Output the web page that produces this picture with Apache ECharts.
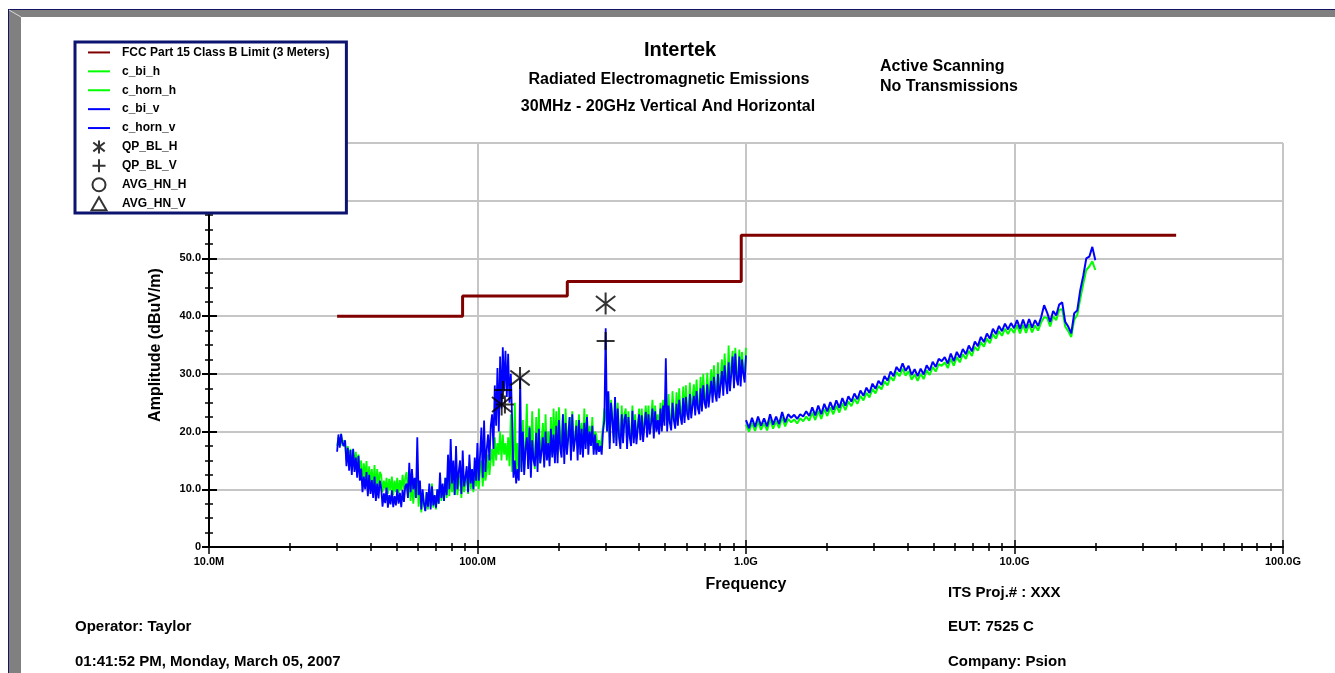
<!DOCTYPE html>
<html><head><meta charset="utf-8">
<script src="https://cdn.jsdelivr.net/npm/echarts@6/dist/echarts.min.js"></script>
<style>html,body{margin:0;padding:0;background:#fff}#c{width:1335px;height:673px}</style>
</head><body><div id="c"></div>
<script>
const FONT = '"Liberation Sans", Arial, Helvetica, sans-serif';

// ---- names / labels ----
const seriesNames = ['FCC Part 15 Class B Limit (3 Meters)', 'c_bi_h', 'c_horn_h', 'c_bi_v', 'c_horn_v', 'QP_BL_H', 'QP_BL_V', 'AVG_HN_H', 'AVG_HN_V'];
const titleLines = ['Intertek', 'Radiated Electromagnetic Emissions', '30MHz - 20GHz Vertical And Horizontal'];
const noteLines = ['Active Scanning', 'No Transmissions'];
const footerLeft = ['Operator: Taylor', '01:41:52 PM, Monday, March 05, 2007'];
const footerRight = ['ITS Proj.# : XXX', 'EUT: 7525 C', 'Company: Psion'];
const minorTickFreqs = [20,30,40,50,60,70,80,90,200,300,400,500,600,700,800,900,2000,3000,4000,5000,6000,7000,8000,9000,20000,30000,40000,50000,60000,70000,80000,90000];

// ---- limit line (MHz, dBuV/m) ----
const limitFreq = [30, 88, 216, 960, 40000];
const limitVal = [40, 43.5, 46, 54, 54];

// ---- sweep ranges (MHz) ----
const biSweep = [30, 1000];
const hornSweep = [1000, 20000];

// ---- c_bi_h (green, horizontal, biconical) ----
const biH = [
 17.5, 19, 18, 19.6, 17.5, 18.5,
 18, 15, 17.5, 14.5, 17, 14, 16.8, 14.2, 16.5, 13.5, 16, 13,
 15, 11, 14.5, 12, 14.9, 10.5, 14, 11, 13.5, 10.2, 14.2, 10, 13.5, 10.5, 13,
 12.5, 9.5, 11.5, 10, 12, 9.2, 11.8, 9.8, 12.2, 9, 11.5, 9.5, 12, 9.3, 11.6, 9.8, 12.5, 10, 12,
 13, 9, 11.5, 8, 11, 7.5, 10, 8.5,
 12,
 7, 10, 6, 9, 7.5, 6.3, 9.5, 6.5, 10, 7, 11, 6.8, 9, 6.5, 10,
 7.5, 11, 8, 10.5, 8, 12,
 8.5, 13, 8.8, 14, 9.5, 12, 9,
 13.5, 9, 11, 12.5, 8.5, 14, 9.5, 11, 13, 9.2, 14.5, 10, 12, 9.5, 14, 10.5,
 14, 10, 13, 15, 10.5, 14.5, 11.5, 13, 16, 12.5, 15,
 17, 14, 19, 15, 18, 16, 20, 15, 19.5, 16, 18, 15, 19, 14, 23, 13,
 14, 25, 12, 18, 13,
 14,
 14, 22, 13, 18, 24.8, 14, 21, 15, 23.5, 16, 13.5, 22.5, 15, 24, 14.5, 18, 21.5, 15.5, 23, 16, 20, 15, 22.5, 16, 24, 17,
 23.5, 16, 24.2, 19, 17.5, 23, 16.5, 24, 17, 20, 22.5, 16.5, 23.5, 17.5, 19, 22, 17, 23, 18, 21.5, 17, 24, 18, 23, 17.5, 21, 18.5, 22.5, 17, 20,
 19.5, 17, 18.5, 17, 19, 21,
 24, 23,
 20, 26.5, 18, 25.5, 22, 19, 26, 18.5, 25, 20, 18, 24.5, 19, 23,
 24, 18, 23.5, 20, 18.5, 24.5, 19, 23, 18.8, 21, 24, 19.5, 24, 19.2, 22, 24.5, 20, 24.5, 20.5, 22.5, 25.5, 20, 24.5, 21, 23, 20.5, 25,
 21, 25.5, 22,
 25,
 21, 26.5, 22.5, 21.2, 27, 23, 21.5, 26.8, 22, 27.5,
 23.5, 22.2, 27.8, 22.5, 28, 24, 23, 28.5, 23.3, 26,
 28.2, 23.8, 29, 25, 24, 29.5, 24.5, 30, 26, 25,
 30.2, 25.2, 28, 30.8, 26, 31.5, 27.5, 26.2, 32, 26.8,
 29.5, 32.5, 27.2, 33.5, 29.5, 27.5, 34.9, 28, 31.5, 34,
 28.5, 34.5, 30, 29, 34.2, 28.8, 33.8, 31, 29.5, 34.5
];

// ---- c_bi_v (blue, vertical, biconical) ----
const biV = [
 16.5, 19.5, 17.2, 19.6, 18, 17.5,
 18.5, 14, 17.2, 13.2, 16.8, 12.5, 17, 13, 15.5, 12, 15.8, 11.5,
 13.6, 9.5, 12.2, 10, 13, 8.8, 12.5, 9.2, 11.6, 8.5, 12.2, 8, 11, 8.4, 11.5,
 10.2, 7, 9.3, 7.6, 10.3, 6.8, 9, 7.4, 9.8, 6.9, 8.8, 7.2, 10, 7.5, 9.4, 6.9, 9.9, 7.8, 10.5,
 11, 8.5, 14.6, 9.5, 13.5, 10, 12, 8.5,
 19,
 9, 11.5, 6.5, 10, 7.5, 6.2, 9.5, 7, 11, 6.5, 10.5, 7.2, 9, 6.8, 10,
 7.5, 12.9, 8.5, 11, 8, 12,
 9, 16, 10, 18.7, 11, 15, 9,
 17.5, 10, 13, 15, 9.2, 16.7, 10.5, 12, 14, 9.5, 16, 11, 13.5, 10, 15.5, 11.5,
 18, 11.5, 16, 20.7, 12, 21.9, 13, 17, 19.5, 15, 21,
 23, 17, 28, 21, 31, 20, 33, 24, 34.6, 27, 34, 26, 33.5, 25, 30, 22,
 12, 15, 11, 13.5, 11.5,
 29.4,
 13, 20, 12.5, 17, 19, 13.5, 20.7, 12, 18.5, 15, 14, 19.8, 13, 20.5, 14.5, 16.5, 19, 13.8, 20, 15, 18, 14, 20.5, 15.5, 19.5, 14.5,
 21, 14.5, 22, 17, 15.5, 23, 14.4, 21.5, 16, 19, 22.5, 15, 23, 16.5, 18.5, 21, 15, 22, 16, 20.5, 15.5, 21.5, 17, 22.5, 16, 20, 17.5, 21, 16, 19.5,
 16, 18, 16.5, 17.5, 16, 20,
 22, 37.9,
 20, 27, 17, 25, 22, 18, 26, 17.5, 24, 19, 17, 23, 18, 22,
 23, 17, 22.5, 19, 17.5, 23.6, 18, 22, 17.8, 20.5, 23, 18.5, 22.8, 18.2, 21, 23.4, 19, 23, 19.5, 21.5, 24, 18.8, 23.5, 20, 22, 19.5, 24,
 20, 24.5, 21,
 32.7,
 20, 24.5, 21.5, 20.2, 25, 22, 20.5, 24.8, 21, 25.5,
 22.5, 21.2, 25.8, 21.5, 26, 23, 22, 26.5, 22.3, 24.5,
 26.2, 22.8, 27, 24, 23, 27.5, 23.5, 28, 25, 24,
 28.2, 24.2, 26.5, 28.8, 25, 29.5, 26.5, 25.2, 30, 25.8,
 28, 30.5, 26.2, 31.5, 28.5, 26.5, 32, 27, 30, 33,
 27.5, 33.5, 29, 28, 33, 27.8, 32.5, 30, 28.5, 33.2
];

// ---- c_horn_h (green, horizontal, horn) ----
const hornH = [
 21.2, 20.0, 21.5, 20.1, 21.8, 20.3, 21.5, 20.2, 22.1, 20.5,
 21.8, 20.6, 22.5, 20.9, 22.2, 21.6, 22.1, 21.4, 22.3, 21.8,
 22.6, 21.9, 23.3, 22.0, 23.6, 22.2, 23.9, 22.7, 24.2, 23.0,
 24.5, 23.3, 24.9, 23.7, 25.2, 24.4, 25.7, 24.8, 26.2, 25.4,
 26.7, 25.9, 27.4, 26.6, 27.9, 27.3, 28.7, 28.0, 29.5, 28.8,
 30.3, 29.6, 30.9, 29.7, 30.5, 29.0, 29.9, 28.8, 30.0, 29.1,
 30.6, 29.8, 31.2, 30.4, 31.7, 31.4, 32.0, 31.0, 32.6, 31.4,
 32.9, 32.0, 33.4, 32.6, 34.0, 33.1, 34.7, 34.0, 35.5, 34.7,
 36.1, 35.3, 36.9, 36.1, 37.4, 36.6, 37.8, 36.9, 37.9, 37.1,
 38.4, 37.0, 38.5, 37.1, 38.6, 37.2, 38.4, 37.5, 38.9, 39.8,
 39.7, 38.2, 40.0, 39.3, 41.1, 41.2, 38.2, 37.4, 36.4, 39.4,
 40.2, 43.0, 45.6, 48.0, 48.6, 49.5, 48.0
];

// ---- c_horn_v (blue, vertical, horn) ----
const hornV = [
 22.0, 20.6, 22.4, 20.8, 22.6, 21.0, 22.3, 20.9, 23.0, 21.2,
 22.6, 21.3, 23.4, 21.6, 23.0, 22.4, 22.9, 22.2, 23.0, 22.6,
 23.5, 22.7, 24.2, 22.8, 24.5, 23.0, 24.8, 23.5, 25.1, 23.8,
 25.4, 24.1, 25.8, 24.5, 26.1, 25.2, 26.6, 25.6, 27.1, 26.2,
 27.6, 26.7, 28.3, 27.4, 28.8, 28.1, 29.6, 28.8, 30.4, 29.6,
 31.2, 30.4, 31.8, 30.5, 31.4, 29.8, 30.8, 29.6, 30.9, 29.9,
 31.5, 30.6, 32.1, 31.2, 32.6, 32.2, 32.9, 31.8, 33.5, 32.2,
 33.8, 32.8, 34.3, 33.4, 34.9, 33.9, 35.6, 34.8, 36.4, 35.5,
 37.0, 36.1, 37.8, 36.9, 38.3, 37.4, 38.7, 37.7, 38.8, 37.9,
 39.3, 37.8, 39.4, 37.9, 39.5, 38.0, 39.3, 38.3, 39.8, 41.9,
 40.6, 39.0, 40.9, 40.1, 42.0, 42.4, 39.0, 38.2, 37.0, 40.5,
 41.0, 44.5, 47.0, 50.0, 50.3, 52.0, 49.7
];

// ---- quasi-peak / average markers ----
const qpHFreq = [123, 144, 300];
const qpHVal = [24.7, 29.3, 42.2];
const qpVFreq = [124.5, 126.5, 300];
const qpVVal = [27.2, 24.7, 35.7];
const avgHFreq = [];
const avgHVal = [];
const avgVFreq = [];
const avgVVal = [];

// ---------------------------------------------------------------
function sweepPairs(range, vals) {
  const n = vals.length, a = Math.log10(range[0]), b = Math.log10(range[1]);
  return vals.map((v, i) => [Math.pow(10, a + (b - a) * i / (n - 1)), v]);
}
function pairs(f, v) { return f.map((x, i) => [x, v[i]]); }

const ASTERISK = 'path://M5,0L5,10M0.6,1.6L9.4,8.4M0.6,8.4L9.4,1.6';
const PLUS = 'path://M5,0L5,10M0,5L10,5';
const TRIANGLE = 'path://M5,0L10,8.66L0,8.66Z';
const hollow = { color: 'rgba(0,0,0,0)', borderColor: '#000', borderWidth: 2 };
const noDot = { color: 'rgba(0,0,0,0)', borderColor: 'rgba(0,0,0,0)', borderWidth: 0 };
const GRIDC = '#c6c6c6';
const lbl = { fontFamily: FONT, fontWeight: 'bold', fontSize: 11, color: '#000' };
const minorExp = minorTickFreqs.map(v => Math.log10(v));

function tickAxisX(type, inside, len, custom) {
  const o = {
    type: type, min: type === 'log' ? 10 : 1, max: type === 'log' ? 100000 : 5, position: 'bottom',
    axisLine: { show: false }, axisLabel: { show: false }, splitLine: { show: false },
    axisTick: { show: true, inside: inside, length: len, lineStyle: { color: '#000', width: 1.5 } }
  };
  if (custom) o.axisTick.customValues = custom;
  return o;
}

const chart = echarts.init(document.getElementById('c'), null, { renderer: 'canvas' });

const txt = (t, x, y, size, align) => ({
  type: 'text', x: x, y: y, z: 50,
  style: { text: t, fill: '#000', font: 'bold ' + size + 'px ' + FONT, align: align, verticalAlign: 'middle' }
});

chart.setOption({
  animation: false,
  backgroundColor: '#fff',
  grid: { left: 209, right: 52, top: 143, bottom: 126, containLabel: false },
  legend: {
    orient: 'vertical', left: 75, top: 42,
    itemWidth: 22, itemHeight: 13, itemGap: 0,
    padding: [1, 17, 0, 12],
    backgroundColor: '#fff', borderColor: '#0d1470', borderWidth: 3, borderRadius: 0,
    textStyle: { fontFamily: FONT, fontWeight: 'bold', fontSize: 12, lineHeight: 18.9, color: '#000', padding: [0, 0, 0, 7] },
    data: seriesNames, selectedMode: false, z: 20
  },
  xAxis: [
    {
      type: 'log', logBase: 10, min: 10, max: 100000, position: 'bottom',
      axisLine: { show: true, onZero: false, lineStyle: { color: '#000', width: 2 } },
      axisTick: { show: true, length: 7, lineStyle: { color: '#000', width: 1.5 } },
      axisLabel: Object.assign({ margin: 9, formatter: v => v >= 1000 ? (v / 1000).toFixed(1) + 'G' : v.toFixed(1) + 'M' }, lbl),
      splitLine: { show: true, lineStyle: { color: GRIDC, width: 2 } },
      name: 'Frequency', nameLocation: 'middle', nameGap: 30,
      nameTextStyle: { fontFamily: FONT, fontWeight: 'bold', fontSize: 16, color: '#000' }
    },
    tickAxisX('log', true, 7),
    tickAxisX('value', false, 4, minorExp),
    tickAxisX('value', true, 4, minorExp)
  ],
  yAxis: [
    {
      type: 'value', min: 0, max: 70, interval: 10, position: 'left',
      axisLine: { show: true, onZero: false, lineStyle: { color: '#000', width: 2 } },
      axisTick: { show: true, length: 7, lineStyle: { color: '#000', width: 2 } },
      minorTick: { show: true, splitNumber: 4, length: 4, lineStyle: { color: '#000', width: 1.5 } },
      axisLabel: Object.assign({ margin: 8, formatter: v => v === 0 ? '0' : v.toFixed(1) }, lbl),
      splitLine: { show: true, lineStyle: { color: GRIDC, width: 2 } },
      name: 'Amplitude (dBuV/m)', nameLocation: 'middle', nameGap: 45, nameRotate: 90,
      nameTextStyle: { fontFamily: FONT, fontWeight: 'bold', fontSize: 16, color: '#000' }
    },
    {
      type: 'value', min: 0, max: 70, interval: 10, position: 'left',
      axisLine: { show: false }, axisLabel: { show: false }, splitLine: { show: false },
      axisTick: { show: true, inside: true, length: 8, lineStyle: { color: '#000', width: 2 } },
      minorTick: { show: true, splitNumber: 4, length: 4, lineStyle: { color: '#000', width: 1.5 } }
    }
  ],
  series: [
    { name: seriesNames[0], type: 'line', step: 'end', data: pairs(limitFreq, limitVal), symbol: 'none',
      lineStyle: { color: '#800000', width: 3 }, itemStyle: noDot, z: 4 },
    { name: seriesNames[1], type: 'line', data: sweepPairs(biSweep, biH), symbol: 'none',
      lineStyle: { color: '#00ff00', width: 1.8 }, itemStyle: noDot },
    { name: seriesNames[2], type: 'line', data: sweepPairs(hornSweep, hornH), symbol: 'none',
      lineStyle: { color: '#00ff00', width: 2 }, itemStyle: noDot },
    { name: seriesNames[3], type: 'line', data: sweepPairs(biSweep, biV), symbol: 'none',
      lineStyle: { color: '#0000ff', width: 1.8 }, itemStyle: noDot },
    { name: seriesNames[4], type: 'line', data: sweepPairs(hornSweep, hornV), symbol: 'none',
      lineStyle: { color: '#0000ff', width: 2 }, itemStyle: noDot },
    { name: seriesNames[5], type: 'scatter', data: pairs(qpHFreq, qpHVal), symbol: ASTERISK, symbolSize: 22,
      symbolKeepAspect: true, itemStyle: hollow, z: 6 },
    { name: seriesNames[6], type: 'scatter', data: pairs(qpVFreq, qpVVal), symbol: PLUS, symbolSize: 18,
      symbolKeepAspect: true, itemStyle: hollow, z: 6 },
    { name: seriesNames[7], type: 'scatter', data: pairs(avgHFreq, avgHVal), symbol: 'circle', symbolSize: 10,
      symbolKeepAspect: true, itemStyle: hollow, z: 6 },
    { name: seriesNames[8], type: 'scatter', data: pairs(avgVFreq, avgVVal), symbol: TRIANGLE, symbolSize: 13,
      symbolKeepAspect: true, itemStyle: hollow, z: 6 }
  ],
  graphic: [
    { type: 'rect', z: 40, shape: { x: 8, y: 9, width: 1327, height: 1 }, style: { fill: '#141466' } },
    { type: 'rect', z: 40, shape: { x: 8, y: 9, width: 1, height: 664 }, style: { fill: '#141466' } },
    { type: 'rect', z: 40, shape: { x: 9, y: 10, width: 1326, height: 7 }, style: { fill: '#808080' } },
    { type: 'rect', z: 40, shape: { x: 9, y: 10, width: 12, height: 663 }, style: { fill: '#808080' } },
    { type: 'line', z: 41, shape: { x1: 9, y1: 10, x2: 21, y2: 17 }, style: { stroke: '#d8d8d8', lineWidth: 1 } },
    txt(titleLines[0], 680, 50, 20, 'center'),
    txt(titleLines[1], 669, 80, 16, 'center'),
    txt(titleLines[2], 668, 107, 16, 'center'),
    txt(noteLines[0], 880, 67, 16, 'left'),
    txt(noteLines[1], 880, 87, 16, 'left'),
    txt(footerRight[0], 948, 593, 15, 'left'),
    txt(footerLeft[0], 75, 627, 15, 'left'),
    txt(footerRight[1], 948, 627, 15, 'left'),
    txt(footerLeft[1], 75, 662, 15, 'left'),
    txt(footerRight[2], 948, 662, 15, 'left')
  ]
});
</script>
</body></html>
